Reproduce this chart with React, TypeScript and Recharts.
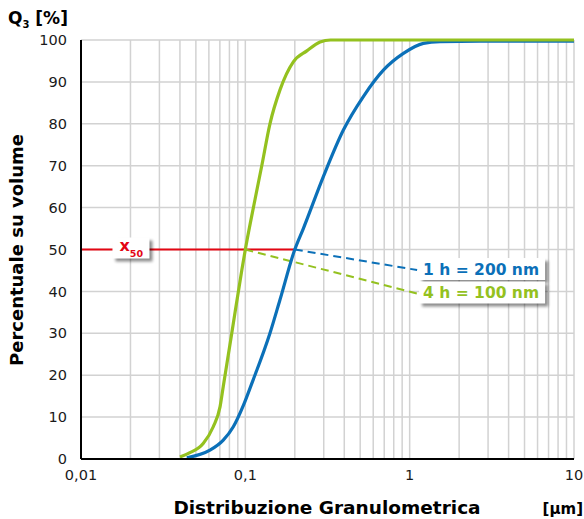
import { LineChart, Line, XAxis, YAxis, CartesianGrid, ReferenceLine, ReferenceDot } from 'recharts';

const FONT = '"DejaVu Sans", Verdana, sans-serif';
const BLUE = '#0b70b8';
const GREEN = '#94c11f';
const RED = '#e30613';

// log grid: every 1..9 step of each decade
const sizeTicks = [
  0.01, 0.02, 0.03, 0.04, 0.05, 0.06, 0.07, 0.08, 0.09,
  0.1, 0.2, 0.3, 0.4, 0.5, 0.6, 0.7, 0.8, 0.9,
  1, 2, 3, 4, 5, 6, 7, 8, 9,
  10,
];
const decadeTicks = [0.01, 0.1, 1, 10];
const decadeLabels = ['0,01', '0,1', '1', '10'];
const percentTicks = [0, 10, 20, 30, 40, 50, 60, 70, 80, 90, 100];

// 1 h milling (blue)
const size1h = [0.044, 0.0609, 0.0734, 0.0845, 0.0973, 0.1094, 0.1412, 0.1625, 0.2, 0.2254, 0.2984, 0.395, 0.5225, 0.6918, 0.916, 1.212, 1.531, 2.68, 10];
const q1h = [0.3, 2.1, 4.5, 7.7, 12.8, 18, 30, 38, 50, 55, 67.4, 78.5, 86.5, 92.8, 96.8, 99.2, 99.6, 99.7, 99.7];

// 4 h milling (green)
const size4h = [0.04, 0.046, 0.0554, 0.0638, 0.0702, 0.0734, 0.0826, 0.0951, 0.1, 0.1146, 0.1259, 0.1412, 0.1625, 0.1959, 0.2367, 0.285, 0.33, 1, 10];
const q4h = [0.5, 1.5, 3.7, 7.7, 12.5, 17.3, 29.9, 45, 50, 62, 70, 80, 88.1, 94.8, 97.4, 99.5, 100, 100, 100];

const x50 = 50;
const d50_1h = 0.2;
const d50_4h = 0.1;
const tagSize = 1.11;
const tag1hQ = 45.1;
const tag4hQ = 39.5;
const x50TagSize = 0.02;

const data1h = size1h.map((x, i) => ({ x, y: q1h[i] }));
const data4h = size4h.map((x, i) => ({ x, y: q4h[i] }));

const fmtSize = (v: number) => {
  const i = decadeTicks.indexOf(v);
  return i >= 0 ? decadeLabels[i] : '';
};

const Tag = ({ cx, cy, text, color }: { cx: number; cy: number; text: string; color: string }) => (
  <g>
    <rect x={cx + 5} y={cy - 9} width={126} height={22} fill="#000" opacity={0.45} filter="url(#tagShadow)" />
    <rect x={cx + 2} y={cy - 12} width={126} height={22} fill="#fff" />
    <text x={cx + 6} y={cy + 5} fill={color} fontSize={15.5} fontWeight="bold" fontFamily={FONT}>
      {text}
    </text>
  </g>
);

const X50Tag = ({ cx, cy }: { cx: number; cy: number }) => (
  <g>
    <rect x={cx - 15} y={cy - 9} width={37} height={21} fill="#000" opacity={0.45} filter="url(#tagShadow)" />
    <rect x={cx - 18} y={cy - 12} width={37} height={21} fill="#fff" />
    <text x={cx - 11} y={cy + 1} fill={RED} fontSize={16} fontWeight="bold" fontFamily={FONT}>
      x
      <tspan fontSize={9.5} dy={6}>50</tspan>
    </text>
  </g>
);

export default function App() {
  return (
    <div style={{ position: 'absolute', left: 0, top: 0, width: 584, height: 519, background: '#fff' }}>
      <LineChart width={584} height={519} margin={{ top: 40, right: 10, bottom: 0, left: 0 }}>
        <CartesianGrid stroke="#d2d2d2" strokeWidth={1.5} />
        <XAxis
          dataKey="x"
          type="number"
          scale="log"
          domain={[0.01, 10]}
          ticks={sizeTicks}
          interval={0}
          tickFormatter={fmtSize}
          tickLine={false}
          tickSize={0}
          tickMargin={11}
          height={60}
          axisLine={{ stroke: '#000', strokeWidth: 2 }}
          tick={{ fontSize: 14.5, fill: '#1a1a1a', fontFamily: FONT }}
          allowDataOverflow
        />
        <YAxis
          type="number"
          domain={[0, 100]}
          ticks={percentTicks}
          interval={0}
          tickLine={false}
          tickSize={0}
          tickMargin={14}
          width={81}
          axisLine={{ stroke: '#000', strokeWidth: 2 }}
          tick={{ fontSize: 14.5, fill: '#1a1a1a', fontFamily: FONT }}
        />
        <ReferenceLine segment={[{ x: 0.01, y: x50 }, { x: d50_1h, y: x50 }]} stroke={RED} strokeWidth={2} />
        <ReferenceLine
          segment={[{ x: d50_1h, y: x50 }, { x: tagSize, y: tag1hQ }]}
          stroke={BLUE}
          strokeWidth={2}
          strokeDasharray="8 5"
        />
        <ReferenceLine
          segment={[{ x: d50_4h, y: x50 }, { x: tagSize, y: tag4hQ }]}
          stroke={GREEN}
          strokeWidth={2}
          strokeDasharray="8 5"
        />
        <Line data={data1h} dataKey="y" type="monotone" stroke={BLUE} strokeWidth={3.2} dot={false} isAnimationActive={false} />
        <Line data={data4h} dataKey="y" type="monotone" stroke={GREEN} strokeWidth={3.2} dot={false} isAnimationActive={false} />
        <ReferenceDot x={x50TagSize} y={x50} r={0} ifOverflow="visible" shape={(p: any) => <X50Tag cx={p.cx} cy={p.cy} />} />
        <ReferenceDot
          x={tagSize}
          y={tag1hQ}
          r={0}
          ifOverflow="visible"
          shape={(p: any) => <Tag cx={p.cx} cy={p.cy} text="1 h = 200 nm" color={BLUE} />}
        />
        <ReferenceDot
          x={tagSize}
          y={tag4hQ}
          r={0}
          ifOverflow="visible"
          shape={(p: any) => <Tag cx={p.cx} cy={p.cy} text="4 h = 100 nm" color={GREEN} />}
        />
      </LineChart>
      <svg width={584} height={519} style={{ position: 'absolute', left: 0, top: 0, pointerEvents: 'none' }}>
        <defs>
          <filter id="tagShadow" x="-20%" y="-40%" width="140%" height="180%">
            <feGaussianBlur stdDeviation="1.6" />
          </filter>
        </defs>
        <text x={8} y={24} fontSize={17} fontWeight="bold" fontFamily={FONT} fill="#000">
          Q<tspan fontSize={10} dy={4}>3</tspan>
          <tspan dy={-4}> [%]</tspan>
        </text>
        <text
          transform="translate(23,250) rotate(-90)"
          textAnchor="middle"
          fontSize={18}
          fontWeight="bold"
          fontFamily={FONT}
          fill="#000"
        >
          Percentuale su volume
        </text>
        <text x={327} y={514} textAnchor="middle" fontSize={18.5} fontWeight="bold" fontFamily={FONT} fill="#000">
          Distribuzione Granulometrica
        </text>
        <text x={583} y={514} textAnchor="end" fontSize={15} fontWeight="bold" fontFamily={FONT} fill="#000">
          [µm]
        </text>
      </svg>
    </div>
  );
}
